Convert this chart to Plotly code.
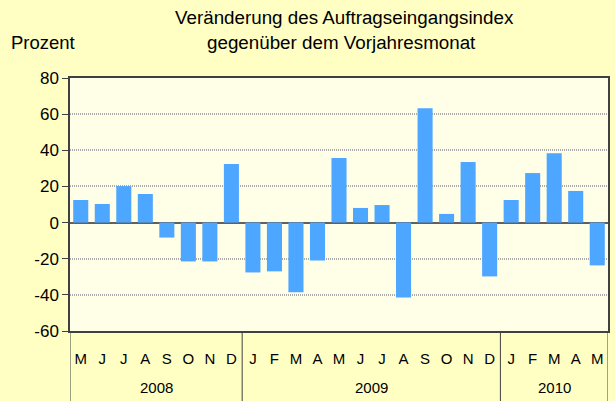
import plotly.graph_objects as go

# Veränderung des Auftragseingangsindex gegenüber dem Vorjahresmonat (Prozent)
months = ["M", "J", "J", "A", "S", "O", "N", "D",
          "J", "F", "M", "A", "M", "J", "J", "A", "S", "O", "N", "D",
          "J", "F", "M", "A", "M"]
years = ["2008", "2009", "2010"]
year_len = [8, 12, 5]
values = [12.5, 10.3, 20.2, 15.8, -8.3, -21.5, -21.5, 32.4,
          -27.6, -27.0, -38.6, -21.0, 35.7, 8.1, 9.7, -41.4, 63.3, 4.8, 33.5, -29.8,
          12.5, 27.4, 38.4, 17.5, -23.7]
y_ticks = [-60, -40, -20, 0, 20, 40, 60, 80]

x = list(range(len(values)))

fig = go.Figure()
fig.add_trace(go.Bar(x=x, y=values, marker_color="#4DA6FF", marker_line_width=0))

# Jahres-Trennlinien und Beschriftungen
bounds = [-0.5]
for n in year_len:
    bounds.append(bounds[-1] + n)
for b in bounds:
    fig.add_shape(type="line", xref="x", yref="paper", x0=b, x1=b, y0=0, y1=-0.3,
                  line=dict(color="#404040", width=1))
for i, yr in enumerate(years):
    fig.add_annotation(x=(bounds[i] + bounds[i + 1]) / 2, y=-0.222, xref="x", yref="paper",
                       text=yr, showarrow=False, yanchor="middle",
                       font=dict(size=15, color="#000000"))

# Titel und Einheit
fig.add_annotation(text="Veränderung des Auftragseingangsindex", xref="paper", yref="paper",
                   x=0.511, y=1.24, xanchor="center", yanchor="middle", showarrow=False,
                   font=dict(size=18.8, color="#000000"))
fig.add_annotation(text="gegenüber dem Vorjahresmonat", xref="paper", yref="paper",
                   x=0.505, y=1.142, xanchor="center", yanchor="middle", showarrow=False,
                   font=dict(size=18.8, color="#000000"))
fig.add_annotation(text="Prozent", xref="paper", yref="paper", x=-0.113, y=1.142,
                   xanchor="left", yanchor="middle", showarrow=False,
                   font=dict(size=18.5, color="#000000"))

fig.update_layout(
    width=615, height=401,
    margin=dict(l=70, r=7, t=78, b=70),
    paper_bgcolor="#FFFFC4",
    plot_bgcolor="#FFFFE8",
    font=dict(family="Liberation Sans, Arial, sans-serif", color="#000000"),
    showlegend=False,
    bargap=0.3,
)
fig.update_xaxes(range=[-0.5, len(values) - 0.5], tickmode="array", tickvals=x,
                 ticktext=months, ticks="", tickfont=dict(size=15),
                 ticklabelstandoff=13, showgrid=False, zeroline=False, automargin=False,
                 showline=True, linecolor="#404040", linewidth=1.5, mirror=True)
fig.update_yaxes(range=[-60, 80], tickmode="array", tickvals=y_ticks,
                 ticktext=[str(v) for v in y_ticks], ticks="outside", ticklen=6,
                 tickcolor="#404040", tickfont=dict(size=17), automargin=False,
                 showgrid=True, gridcolor="#ABABAB", griddash="1px,1px", gridwidth=2,
                 zeroline=True, zerolinecolor="#606060", zerolinewidth=2,
                 showline=True, linecolor="#404040", linewidth=1.5, mirror=True)

# Seitenrand des Browsers entfernen, damit die Grafik das Fenster genau füllt
fig.write_html("out.html", config={"displayModeBar": False},
               post_script="document.body.style.margin='0';")
